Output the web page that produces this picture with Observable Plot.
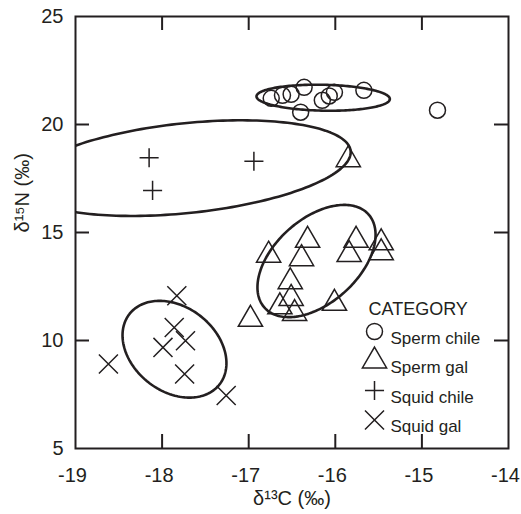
<!DOCTYPE html>
<html>
<head>
<meta charset="utf-8">
<script src="https://cdn.jsdelivr.net/npm/d3@7"></script>
<script src="https://cdn.jsdelivr.net/npm/@observablehq/plot@0.6"></script>
<style>
  html, body { margin: 0; padding: 0; background: #fff; }
  #chart svg { display: block; }
</style>
</head>
<body>
<div id="chart"></div>
<script>
// ---------- data ----------
const categories = ["Sperm chile", "Sperm gal", "Squid chile", "Squid gal"];
const legendTitle = "CATEGORY";
const xLabel = "δ¹³C (‰)";
const yLabel = "δ¹⁵N (‰)";

const xTicks = [-19, -18, -17, -16, -15, -14];
const yTicks = [5, 10, 15, 20, 25];

const spermChileX = [-16.74, -16.61, -16.51, -16.36, -16.40, -16.15, -16.07, -16.01, -15.67, -14.82];
const spermChileY = [21.21, 21.35, 21.40, 21.72, 20.57, 21.12, 21.32, 21.49, 21.58, 20.66];

const spermGalX = [-16.77, -16.32, -16.39, -16.52, -16.51, -16.64, -16.47, -16.98, -16.01, -15.76, -15.84, -15.47, -15.47, -15.85];
const spermGalY = [13.95, 14.64, 13.79, 12.72, 11.95, 11.56, 11.25, 10.98, 11.72, 14.64, 13.98, 14.52, 14.06, 18.37];

const squidChileX = [-18.15, -16.94, -18.11];
const squidChileY = [18.46, 18.30, 16.95];

const squidGalX = [-17.83, -17.86, -17.73, -17.99, -17.74, -18.62, -17.26];
const squidGalY = [12.07, 10.60, 9.99, 9.68, 8.45, 8.91, 7.45];

// ellipses: centre and two conjugate semi-axis vectors, in data units
const ellipseCategory = ["Sperm chile", "Squid chile", "Sperm gal", "Squid gal"];
const ellipseCx = [-16.14, -17.718, -16.217, -17.857];
const ellipseCy = [21.24, 17.98, 13.68, 9.596];
const ellipseAx = [0.77, 1.895, 0.600, 0.519];
const ellipseAy = [-0.06, 0.794, 2.162, -1.634];
const ellipseBx = [0.0, 0.054, 0.324, 0.301];
const ellipseBy = [0.60, -2.067, -1.441, 1.533];

// ---------- layout ----------
const W = 521, H = 514;
const mL = 75, mR = 13, mT = 16, mB = 66;
const innerW = W - mL - mR;
const innerH = H - mT - mB;
const tickLen = 14;
const ink = "#231f20";

const toRows = (xs, ys) => xs.map((x, i) => ({x, y: ys[i]}));
const spermChile = toRows(spermChileX, spermChileY);
const spermGal = toRows(spermGalX, spermGalY);
const squidChile = toRows(squidChileX, squidChileY);
const squidGal = toRows(squidGalX, squidGalY);

const ellipseRows = [];
ellipseCategory.forEach((c, i) => {
  const n = 200;
  for (let k = 0; k <= n; k++) {
    const t = 2 * Math.PI * k / n;
    ellipseRows.push({
      category: c,
      x: ellipseCx[i] + ellipseAx[i] * Math.cos(t) + ellipseBx[i] * Math.sin(t),
      y: ellipseCy[i] + ellipseAy[i] * Math.cos(t) + ellipseBy[i] * Math.sin(t)
    });
  }
});

const innerXTicks = xTicks.slice(1, -1);
const innerYTicks = yTicks.slice(1, -1);

const symbols = ["circle", "triangle", "plus", "times"];
const symbolR = [8, 9, 6.2, 8.7];
const markerStyle = {stroke: ink, strokeWidth: 1.5, fill: "none"};

const legendMarks = [];
legendMarks.push(Plot.text([legendTitle], {
  x: null, y: null, text: d => d, frameAnchor: "top-left", dx: 293, dy: 286,
  textAnchor: "start", fontSize: 18, fill: ink
}));
categories.forEach((c, i) => {
  const dy = 315 + i * 29.5;
  legendMarks.push(Plot.dot([c], {
    x: null, y: null, frameAnchor: "top-left", dx: 299, dy,
    symbol: symbols[i], r: symbolR[i], ...markerStyle
  }));
  legendMarks.push(Plot.text([c], {
    x: null, y: null, text: d => d, frameAnchor: "top-left", dx: 315, dy,
    textAnchor: "start", fontSize: 17, fill: ink
  }));
});

const chart = Plot.plot({
  width: W, height: H,
  marginLeft: mL, marginRight: mR, marginTop: mT, marginBottom: mB,
  x: {domain: [xTicks[0], xTicks[xTicks.length - 1]]},
  y: {domain: [yTicks[0], yTicks[yTicks.length - 1]]},
  style: {fontFamily: "'Liberation Sans', Arial, Helvetica, sans-serif", background: "#fff", color: ink},
  marks: [
    Plot.axisX(xTicks, {tickSize: 0, tickPadding: 19, dx: -3, tickFormat: d => String(d), fontSize: 20, label: null}),
    Plot.axisY(yTicks, {tickSize: 0, tickPadding: 12, tickFormat: d => String(d), fontSize: 20, label: null}),
    Plot.tickX(innerXTicks, {x: d => d, insetTop: innerH - tickLen, stroke: ink, strokeWidth: 2}),
    Plot.tickX(innerXTicks, {x: d => d, insetBottom: innerH - tickLen, stroke: ink, strokeWidth: 2}),
    Plot.tickY(innerYTicks, {y: d => d, insetRight: innerW - tickLen, stroke: ink, strokeWidth: 2}),
    Plot.tickY(innerYTicks, {y: d => d, insetLeft: innerW - tickLen, stroke: ink, strokeWidth: 2}),
    Plot.line(ellipseRows, {x: "x", y: "y", z: "category", stroke: ink, strokeWidth: 2.6, clip: true}),
    Plot.dot(spermChile, {x: "x", y: "y", symbol: symbols[0], r: symbolR[0], ...markerStyle}),
    Plot.dot(spermGal, {x: "x", y: "y", symbol: symbols[1], r: symbolR[1], ...markerStyle}),
    Plot.dot(squidChile, {x: "x", y: "y", symbol: symbols[2], r: symbolR[2], ...markerStyle}),
    Plot.dot(squidGal, {x: "x", y: "y", symbol: symbols[3], r: symbolR[3], ...markerStyle}),
    Plot.frame({stroke: ink, strokeWidth: 2}),
    Plot.text([xLabel], {x: null, y: null, text: d => d, frameAnchor: "bottom", dy: 56, fontSize: 20, fill: ink}),
    Plot.text([yLabel], {x: null, y: null, text: d => d, frameAnchor: "left", dx: -53, rotate: -90, fontSize: 20, fill: ink}),
    ...legendMarks
  ]
});
document.getElementById("chart").appendChild(chart);
</script>
</body>
</html>
